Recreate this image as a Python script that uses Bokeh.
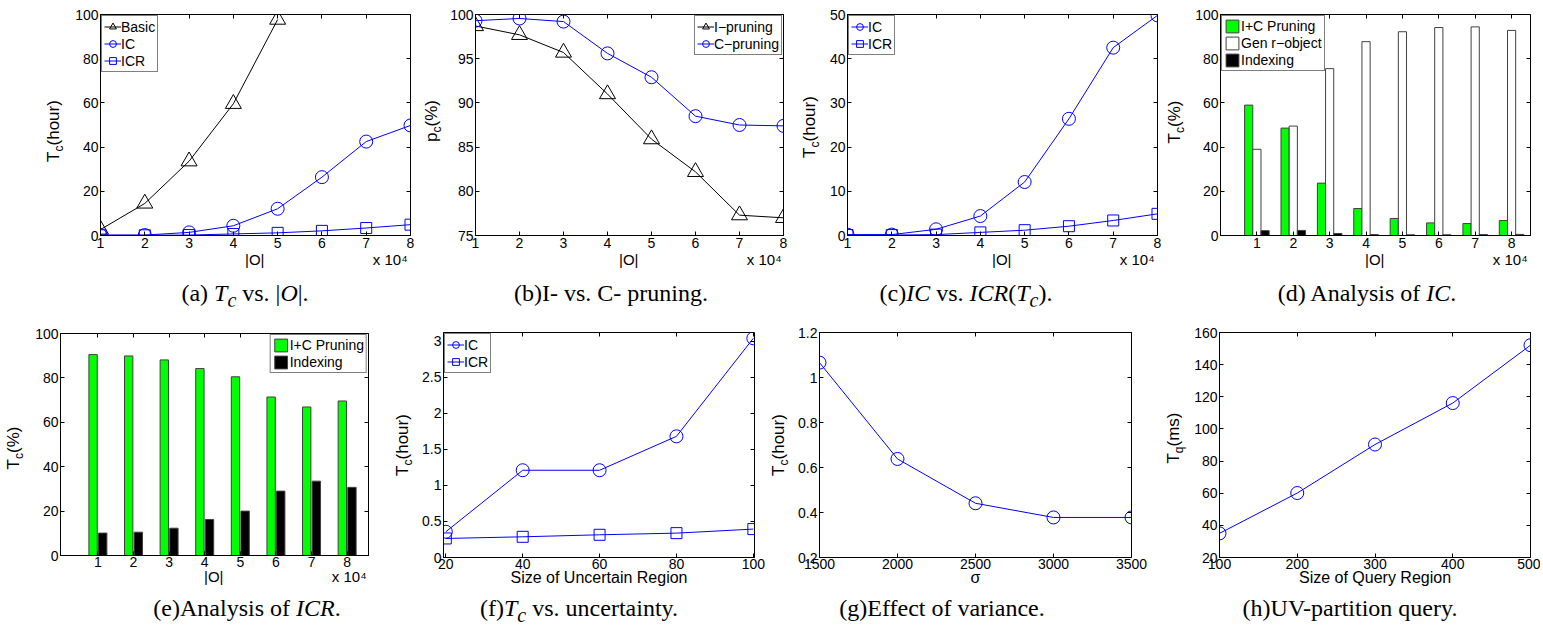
from bokeh.plotting import figure
from bokeh.models import (Range1d, FixedTicker, LinearAxis, Legend, LegendItem,
                          Div, CustomJSTickFormatter, ColumnDataSource)
from bokeh.layouts import row, column
from bokeh.transform import dodge
from bokeh.embed import file_html
from bokeh.resources import INLINE

SANS = "Liberation Sans"
SERIF = "Liberation Serif"
BLUE = "#0000FF"
GREEN = "#00FF00"

# ---------------- data ----------------
O_sizes = [1, 2, 3, 4, 5, 6, 7, 8]            # |O| (x 10^4)
basic_x = [1, 2, 3, 4, 5]
basic_hours = [2.7, 14.5, 33.6, 59.6, 97.7]
ic_hours = [0.2, 0.2, 1.4, 4.4, 12.1, 26.4, 42.5, 49.8]
icr_hours = [0.1, 0.1, 0.2, 0.7, 1.2, 2.1, 3.4, 4.9]

i_pruning = [98.7, 97.7, 95.7, 91.0, 85.9, 82.2, 77.3, 77.0]
c_pruning = [99.3, 99.55, 99.2, 95.6, 92.9, 88.5, 87.5, 87.4]

d_icpruning = [59.0, 48.6, 23.7, 12.2, 7.7, 5.7, 5.4, 6.8]
d_genrobject = [39.0, 49.5, 75.5, 87.7, 92.2, 94.1, 94.4, 92.8]
d_indexing = [2.2, 2.3, 0.9, 0.4, 0.3, 0.3, 0.4, 0.5]

e_icpruning = [90.5, 89.9, 88.1, 84.2, 80.5, 71.4, 66.9, 69.6]
e_indexing = [10.1, 10.5, 12.3, 16.2, 20.0, 29.0, 33.5, 30.7]

region_sizes = [20, 40, 60, 80, 100]
f_ic = [0.357, 1.21, 1.21, 1.68, 3.04]
f_icr = [0.264, 0.287, 0.315, 0.338, 0.394]

sigma = [1500, 2000, 2500, 3000, 3500]
g_tc = [1.066, 0.638, 0.441, 0.378, 0.378]

query_sizes = [100, 200, 300, 400, 500]
h_tq = [35.0, 60.1, 90.3, 116.1, 152.1]

# tick labels
ticks_O = [1, 2, 3, 4, 5, 6, 7, 8]
ticks_0_100 = [0, 20, 40, 60, 80, 100]
ticks_75_100 = [75, 80, 85, 90, 95, 100]
ticks_0_50 = [0, 10, 20, 30, 40, 50]
ticks_region = [20, 40, 60, 80, 100]
ticks_f_y = [0, 0.5, 1, 1.5, 2, 2.5, 3]
ticks_sigma = [1500, 2000, 2500, 3000, 3500]
ticks_g_y = [0.2, 0.4, 0.6, 0.8, 1, 1.2]
ticks_query = [100, 200, 300, 400, 500]
ticks_h_y = [20, 40, 60, 80, 100, 120, 140, 160]

# Arial / Liberation Sans advance widths (per 1000 em)
AW = {'|': 260, 'O': 778, 'x': 500, ' ': 278, '1': 556, '0': 556, '\u2074': 333, '\u00a0': 278}


def tw(s, fs):
    return sum(AW.get(ch, 556) for ch in s) / 1000.0 * fs


def o_label(fw, fs=15, right_gap=2):
    """'|O|' centred on the frame with the 'x 10^4' multiplier at the right end."""
    base, exp = "|O|", "x 10\u2074"
    nb = tw("\u00a0", fs)
    gap_px = fw / 2.0 - tw(base, fs) / 2.0 - tw(exp, fs) - right_gap
    n_gap = max(1, int(round(gap_px / nb)))
    n_left = int(round((n_gap * nb + tw(exp, fs)) / nb))
    return "\u00a0" * n_left + base + "\u00a0" * n_gap + exp


def base_fig(w, h, bl, br, bt, bb, xr, yr, xt, yt, xlabel, xstand=2, lstand=0,
             xlab_size="15px", yfmt=False):
    p = figure(width=w, height=h, x_range=Range1d(*xr), y_range=Range1d(*yr),
               output_backend="svg", toolbar_location=None,
               min_border_left=bl, min_border_right=br,
               min_border_top=bt, min_border_bottom=bb)
    p.grid.visible = False
    p.outline_line_color = "black"
    p.outline_line_width = 1
    p.background_fill_color = "white"
    p.border_fill_color = "white"
    xa = p.xaxis[0]
    ya = p.yaxis[0]
    xa.ticker = FixedTicker(ticks=xt)
    ya.ticker = FixedTicker(ticks=yt)
    for ax in (xa, ya):
        ax.major_tick_in = 4
        ax.major_tick_out = 0
        ax.minor_tick_in = 0
        ax.minor_tick_out = 0
        ax.axis_line_color = "black"
        ax.major_tick_line_color = "black"
        ax.major_label_text_font = SANS
        ax.major_label_text_font_size = "14px"
        ax.major_label_text_color = "black"
        ax.axis_label_text_font = SANS
        ax.axis_label_text_font_size = xlab_size
        ax.axis_label_text_font_style = "normal"
        ax.axis_label_text_color = "black"
    xa.major_label_standoff = xstand
    ya.major_label_standoff = 2
    xa.axis_label = xlabel
    xa.axis_label_standoff = lstand
    if yfmt:
        ya.formatter = CustomJSTickFormatter(code="return String(tick);")
    top = LinearAxis(ticker=FixedTicker(ticks=xt))
    right = LinearAxis(ticker=FixedTicker(ticks=yt))
    for ax in (top, right):
        ax.major_tick_in = 4
        ax.major_tick_out = 0
        ax.minor_tick_in = 0
        ax.minor_tick_out = 0
        ax.major_label_text_font_size = "0px"
        ax.major_label_standoff = 0
        ax.formatter = CustomJSTickFormatter(code="return '';")
        ax.axis_line_color = None
        ax.major_tick_line_color = "black"
    p.add_layout(top, "above")
    p.add_layout(right, "right")
    return p


def ytitle(w, h, main, sub, rest, cx, cy, fs=17, ss=12):
    """Strip holding the rotated y-axis title (with subscript); (cx, cy) = centre of the title."""
    html = (f'<div style="position:relative;width:{w}px;height:{h}px;">'
            f'<div style="position:absolute;left:{cx}px;top:{cy}px;'
            f'transform:translate(-50%,-50%) rotate(-90deg);white-space:nowrap;'
            f'font-family:\'{SANS}\';font-size:{fs}px;line-height:{fs}px;color:#000;">'
            f'{main}<span style="font-size:{ss}px;vertical-align:-4px;line-height:0;">{sub}</span>{rest}'
            f'</div></div>')
    return Div(text=html, width=w, height=h, margin=0)


def line_legend(p, items, loc):
    lg = Legend(items=items, location=loc, glyph_width=17, glyph_height=17, label_height=17,
                spacing=0, padding=2, margin=1, label_standoff=0,
                border_line_color="black", border_line_width=1,
                background_fill_color="white", background_fill_alpha=1.0,
                label_text_font=SANS, label_text_font_size="14px", label_text_color="black")
    p.add_layout(lg)


def bar_legend(p, items, loc):
    lg = Legend(items=items, location=loc, glyph_width=16, glyph_height=16, label_height=16,
                spacing=1, padding=2, margin=1, label_standoff=1,
                border_line_color="black", border_line_width=1,
                background_fill_color="white", background_fill_alpha=1.0,
                label_text_font=SANS, label_text_font_size="14px", label_text_color="black")
    p.add_layout(lg)


def series(p, x, y, color, marker, size):
    l = p.line(x, y, line_color=color, line_width=1)
    m = p.scatter(x, y, marker=marker, size=size, fill_color=None, line_color=color, line_width=1)
    return [l, m]


def caption(html, w, h, cx):
    hw = min(cx, w - cx)
    inner = (f'<div style="margin-left:{cx - hw}px;width:{2 * hw}px;text-align:center;'
             f'white-space:nowrap;font-family:\'{SERIF}\';font-size:24px;line-height:{h}px;'
             f'color:#000;">{html}</div>')
    return Div(text=inner, width=w, height=h, margin=0)


H1, H2 = 280, 291
CAP1, CAP2 = 26, 22

# ---------------- (a) ----------------  x: 0..418
la = ytitle(72, H1, "T", "c", "(hour)", 53, 131)
pa = base_fig(346, H1, 28, 8, 14, 45, (1, 8), (0, 100), ticks_O, ticks_0_100, o_label(310))
ra = series(pa, basic_x, basic_hours, "black", "triangle", 16)
rb = series(pa, O_sizes, ic_hours, BLUE, "circle", 13)
rc = series(pa, O_sizes, icr_hours, BLUE, "square", 11)
line_legend(pa, [LegendItem(label="Basic", renderers=ra), LegendItem(label="IC", renderers=rb),
                 LegendItem(label="ICR", renderers=rc)], "top_left")

# ---------------- (b) ----------------  x: 418..793
lb = ytitle(29, H1, "p", "c", "(%)", 431 - 418, 121)
pb = base_fig(346, H1, 28, 10, 14, 45, (1, 8), (75, 100), ticks_O, ticks_75_100, o_label(308))
r1 = series(pb, O_sizes, i_pruning, "black", "triangle", 16)
r2 = series(pb, O_sizes, c_pruning, BLUE, "circle", 13)
line_legend(pb, [LegendItem(label="I\u2212pruning", renderers=r1),
                 LegendItem(label="C\u2212pruning", renderers=r2)], "top_right")

# ---------------- (c) ----------------  x: 793..1162
lc = ytitle(32, H1, "T", "c", "(hour)", 809 - 793, 127)
pc = base_fig(337, H1, 22, 5, 14, 45, (1, 8), (0, 50), ticks_O, ticks_0_50, o_label(310))
r1 = series(pc, O_sizes, ic_hours, BLUE, "circle", 13)
r2 = series(pc, O_sizes, icr_hours, BLUE, "square", 11)
line_legend(pc, [LegendItem(label="IC", renderers=r1), LegendItem(label="ICR", renderers=r2)], "top_left")

# ---------------- (d) ----------------  x: 1162..1540
ld = ytitle(30, H1, "T", "c", "(%)", 1174 - 1162, 122)
pd_ = base_fig(348, H1, 28, 10, 14, 45, (0, 8.52), (0, 100), ticks_O, ticks_0_100, o_label(310, right_gap=3))
src_d = ColumnDataSource(dict(x=O_sizes, ic=d_icpruning, gen=d_genrobject, idx=d_indexing))
b1 = pd_.vbar(x=dodge("x", -0.225), top="ic", width=0.225, source=src_d,
              fill_color=GREEN, line_color="#404040", line_width=1)
b2 = pd_.vbar(x=dodge("x", 0.0), top="gen", width=0.225, source=src_d,
              fill_color="white", line_color="#404040", line_width=1)
b3 = pd_.vbar(x=dodge("x", 0.225), top="idx", width=0.225, source=src_d,
              fill_color="black", line_color="#404040", line_width=1)
bar_legend(pd_, [LegendItem(label="I+C Pruning", renderers=[b1]),
                 LegendItem(label="Gen r\u2212object", renderers=[b2]),
                 LegendItem(label="Indexing", renderers=[b3])], "top_left")

# ---------------- (e) ----------------  x: 0..390
le = ytitle(32, H2, "T", "c", "(%)", 13, 448 - 306)
pe = base_fig(358, H2, 28, 22, 27, 42, (-0.05, 8.6), (0, 100), ticks_O, ticks_0_100,
              o_label(308, right_gap=1), xstand=1, lstand=-2)
src_e = ColumnDataSource(dict(x=O_sizes, ic=e_icpruning, idx=e_indexing))
e1 = pe.vbar(x=dodge("x", -0.135), top="ic", width=0.235, source=src_e,
             fill_color=GREEN, line_color="#404040", line_width=1)
e2 = pe.vbar(x=dodge("x", 0.135), top="idx", width=0.235, source=src_e,
             fill_color="black", line_color="#404040", line_width=1)
bar_legend(pe, [LegendItem(label="I+C Pruning", renderers=[e1]),
                LegendItem(label="Indexing", renderers=[e2])], "top_right")

# ---------------- (f) ----------------  x: 390..766
lf = ytitle(25, H2, "T", "c", "(hour)", 402 - 390, 445 - 306)
pf = base_fig(351, H2, 28, 12, 26, 40, (19.4, 100.3), (0, 3.12), ticks_region, ticks_f_y,
              "Size of Uncertain Region", xstand=1, lstand=-3, xlab_size="16px", yfmt=True)
r1 = series(pf, region_sizes, f_ic, BLUE, "circle", 13)
r2 = series(pf, region_sizes, f_icr, BLUE, "square", 11)
line_legend(pf, [LegendItem(label="IC", renderers=r1), LegendItem(label="ICR", renderers=r2)], "top_left")

# ---------------- (g) ----------------  x: 766..1160
lg_ = ytitle(25, H2, "T", "c", "(hour)", 778 - 766, 445 - 306)
pg = base_fig(369, H2, 28, 29, 26, 40, (1500, 3500), (0.2, 1.2), ticks_sigma, ticks_g_y,
              "\u03c3", xstand=1, lstand=-3, xlab_size="16px", yfmt=True)
series(pg, sigma, g_tc, BLUE, "circle", 13)

# ---------------- (h) ----------------  x: 1160..1540
lh = ytitle(31, H2, "T", "q", "(ms)", 1173 - 1160, 438 - 306)
ph = base_fig(349, H2, 28, 10, 26, 40, (100, 500), (20, 160), ticks_query, ticks_h_y,
              "Size of Query Region", xstand=1, lstand=-3, xlab_size="16px")
series(ph, query_sizes, h_tq, BLUE, "circle", 13)

# ---------------- captions ----------------
ca = caption("(a) <i>T<sub>c</sub></i> vs. |<i>O</i>|.", 72 + 346, CAP1, 245)
cb = caption("(b)I- vs. C- pruning.", 29 + 346, CAP1, 193)
cc = caption("(c)<i>IC</i> vs. <i>ICR</i>(<i>T<sub>c</sub></i>).", 32 + 337, CAP1, 173)
cd = caption("(d) Analysis of <i>IC</i>.", 30 + 348, CAP1, 1367 - 1162)
ce = caption("(e)Analysis of <i>ICR</i>.", 32 + 358, CAP2, 247)
cf = caption("(f)<i>T<sub>c</sub></i> vs. uncertainty.", 25 + 351, CAP2, 579 - 390)
cg = caption("(g)Effect of variance.", 25 + 369, CAP2, 942 - 766)
ch = caption("(h)UV-partition query.", 31 + 349, CAP2, 190)

layout = column(
    row(column(row(la, pa), ca), column(row(lb, pb), cb),
        column(row(lc, pc), cc), column(row(ld, pd_), cd)),
    row(column(row(le, pe), ce), column(row(lf, pf), cf),
        column(row(lg_, pg), cg), column(row(lh, ph), ch)),
)

open("out.html", "w").write(file_html(layout, INLINE, "Figures"))
